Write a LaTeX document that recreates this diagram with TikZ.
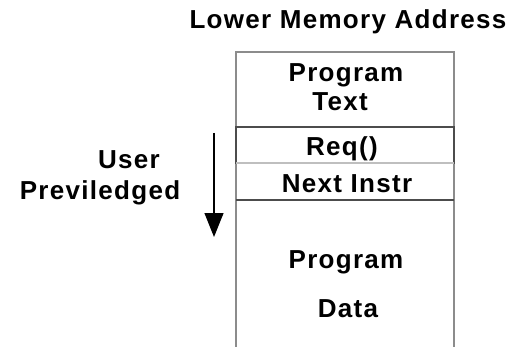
\documentclass[tikz,border=0pt]{standalone}
\usepackage{fontspec}
\setmainfont{Liberation Sans}[LetterSpace=5]
\usetikzlibrary{arrows.meta}
\definecolor{framegray}{gray}{0.55}
\definecolor{darkline}{gray}{0.3}
\definecolor{lightline}{gray}{0.75}
\tikzset{
  lbl/.style={anchor=base,inner sep=0pt,font=\fontsize{26}{30}\selectfont\bfseries},
  frame/.style={draw=framegray,line width=1.3pt},
}

\begin{document}
\begin{tikzpicture}[x=1pt,y=-1pt]
      \useasboundingbox (0,0) rectangle (521,347);
      % memory block, open at the bottom
      \draw[frame] (236,347)--(236,52)--(454,52)--(454,347);
      \draw[draw=darkline,line width=1.3pt] (236,127) rectangle (454,163);
      \draw[draw=lightline,line width=2pt] (236,163)--(454,163);
      \draw[draw=darkline,line width=1.3pt] (236,200)--(454,200);
      % labels
      \node[lbl] (title) at (348,29) {Lower Memory Address};
      \node[lbl] (text1) at (346,82) {Program};
      \node[lbl] (text2) at (340,111) {Text};
      \node[lbl] (req) at (342,156) {Req()};
      \node[lbl] (next) at (347,193) {Next Instr};
      \node[lbl] (data1) at (346,268) {Program};
      \node[lbl] (data2) at (348,317) {Data};
      \node[lbl] (user) at (129,169) {User};
      \node[lbl] (priv) at (100,200) {Previledged};
      % direction of growth
      \coordinate (arrtop) at (214,133);
      \coordinate (arrtip) at (214,237);
      \draw[line width=1.2pt,-{Triangle[length=24pt,width=19pt]}] (arrtop)--(arrtip);
\end{tikzpicture}
\end{document}
